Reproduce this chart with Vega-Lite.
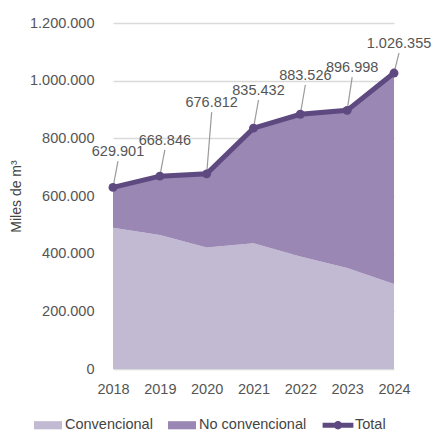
{
  "$schema": "https://vega.github.io/schema/vega-lite/v6.json",
  "width": 319,
  "height": 346,
  "autosize": {"type": "none"},
  "padding": {"left": 99, "top": 23, "right": 14, "bottom": 61},
  "config": {
    "locale": {"number": {"decimal": ",", "thousands": ".", "grouping": [3], "currency": ["", " €"]}},
    "view": {"stroke": null},
    "font": "Liberation Sans",
    "axis": {"labelFont": "Liberation Sans", "labelFontSize": 14.5, "labelColor": "#555555", "titleFont": "Liberation Sans"},
    "legend": {"labelFont": "Liberation Sans"}
  },
  "datasets": {
    "areas": [
      {"year": "2018", "type": "Convencional", "value": 490000},
      {"year": "2019", "type": "Convencional", "value": 465000},
      {"year": "2020", "type": "Convencional", "value": 421000},
      {"year": "2021", "type": "Convencional", "value": 436000},
      {"year": "2022", "type": "Convencional", "value": 390000},
      {"year": "2023", "type": "Convencional", "value": 350000},
      {"year": "2024", "type": "Convencional", "value": 295000},
      {"year": "2018", "type": "No convencional", "value": 139901},
      {"year": "2019", "type": "No convencional", "value": 203846},
      {"year": "2020", "type": "No convencional", "value": 255812},
      {"year": "2021", "type": "No convencional", "value": 399432},
      {"year": "2022", "type": "No convencional", "value": 493526},
      {"year": "2023", "type": "No convencional", "value": 546998},
      {"year": "2024", "type": "No convencional", "value": 731355}
    ],
    "totals": [
      {"year": "2018", "total": 629901, "labelAt": 721000},
      {"year": "2019", "total": 668846, "labelAt": 760000},
      {"year": "2020", "total": 676812, "labelAt": 891000},
      {"year": "2021", "total": 835432, "labelAt": 933000},
      {"year": "2022", "total": 883526, "labelAt": 985000},
      {"year": "2023", "total": 896998, "labelAt": 1012000},
      {"year": "2024", "total": 1026355, "labelAt": 1096000}
    ]
  },
  "layer": [
    {
      "data": {"name": "areas"},
      "mark": {"type": "area", "opacity": 1, "interpolate": "linear"},
      "encoding": {
        "x": {
          "field": "year", "type": "ordinal",
          "scale": {"type": "point", "range": [14, 295], "padding": 0},
          "axis": {"title": null, "domain": false, "ticks": false, "grid": false, "labelAngle": 0, "labelPadding": 13}
        },
        "y": {
          "field": "value", "type": "quantitative", "stack": "zero",
          "scale": {"domain": [0, 1200000], "nice": false},
          "axis": {
            "title": "Miles de m³", "titleFontSize": 14, "titleFontWeight": "normal", "titleColor": "#444444", "titlePadding": 6,
            "format": ",.0f", "values": [0, 200000, 400000, 600000, 800000, 1000000, 1200000],
            "domain": false, "ticks": false, "labelPadding": 5, "gridColor": "#dadada", "gridWidth": 1.5
          }
        },
        "color": {
          "field": "type", "type": "nominal",
          "scale": {"domain": ["Convencional", "No convencional", "Total"], "range": ["#c2b9d3", "#9a87b4", "#5e4a80"]},
          "legend": {
            "orient": "none", "legendX": -65, "legendY": 388, "direction": "horizontal", "title": null, "padding": 0,
            "symbolSize": 784, "symbolStrokeWidth": 0, "symbolOpacity": 1,
            "labelFontSize": 14.5, "labelColor": "#444444", "labelOffset": 3, "columnPadding": 15,
            "encode": {"symbols": {"update": {"shape": {"signal": "datum.label === 'Total' ? 'M-1.1,-0.17L1.1,-0.17L1.1,0.17L-1.1,0.17Z M0.3,0A0.3,0.3 0 1,1 -0.3,0A0.3,0.3 0 1,1 0.3,0Z' : 'M-1,-0.29L1,-0.29L1,0.29L-1,0.29Z'"}}}}
          }
        },
        "order": {"field": "type", "sort": "ascending"}
      }
    },
    {
      "data": {"name": "totals"},
      "mark": {"type": "rule", "color": "#9a9a9a", "strokeWidth": 1.2, "x2Offset": 5},
      "encoding": {
        "x": {"field": "year", "type": "ordinal"},
        "x2": {"field": "year"},
        "y": {"field": "total", "type": "quantitative", "title": "Miles de m³"},
        "y2": {"field": "labelAt"}
      }
    },
    {
      "data": {"name": "totals"},
      "mark": {"type": "line", "color": "#5e4a80", "strokeWidth": 5, "point": {"filled": true, "size": 80, "color": "#5e4a80"}},
      "encoding": {
        "x": {"field": "year", "type": "ordinal"},
        "y": {"field": "total", "type": "quantitative", "title": "Miles de m³"}
      }
    },
    {
      "data": {"name": "totals"},
      "mark": {"type": "text", "font": "Liberation Sans", "fontSize": 14.5, "color": "#555555", "baseline": "alphabetic", "align": "center", "dx": 5, "dy": -5},
      "encoding": {
        "x": {"field": "year", "type": "ordinal"},
        "y": {"field": "labelAt", "type": "quantitative", "title": "Miles de m³"},
        "text": {"field": "total", "type": "quantitative", "format": ",.0f"}
      }
    }
  ]
}
